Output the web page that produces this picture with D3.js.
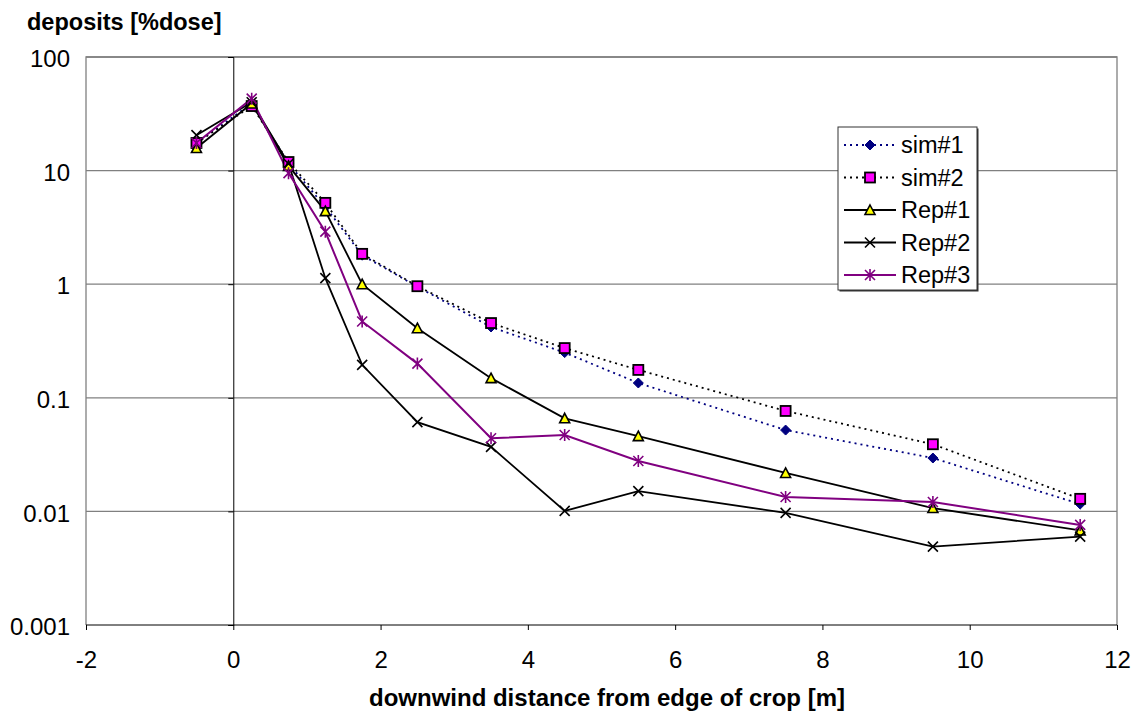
<!DOCTYPE html>
<html>
<head>
<meta charset="utf-8">
<script src="https://cdn.jsdelivr.net/npm/d3@7"></script>
<style>
  body { margin: 0; background: #fff; }
  svg { font-family: "Liberation Sans", Arial, sans-serif; }
</style>
</head>
<body>
<div class="chart"></div>
<script>
// distances [m]
const distance = [-0.5, 0.25, 0.75, 1.25, 1.75, 2.5, 3.5, 4.5, 5.5, 7.5, 9.5, 11.5];

// deposits [%dose]
const sim1 = [17.5, 39, 11.5, 4.8, 1.8, 0.95, 0.42, 0.25, 0.135, 0.052, 0.0295, 0.0116];
const sim2 = [17.5, 37, 11.9, 5.2, 1.85, 0.96, 0.455, 0.274, 0.176, 0.0766, 0.039, 0.0129];
const rep1 = [15.8, 39, 11, 4.4, 1.0, 0.41, 0.149, 0.066, 0.046, 0.0218, 0.0107, 0.0068];
const rep2 = [20.5, 40, 11.5, 1.13, 0.195, 0.061, 0.037, 0.0101, 0.0151, 0.0097, 0.0049, 0.006];
const rep3 = [17.5, 43, 9.5, 2.9, 0.47, 0.2, 0.044, 0.047, 0.0278, 0.0134, 0.0121, 0.0076];

const seriesNames = ["sim#1", "sim#2", "Rep#1", "Rep#2", "Rep#3"];
const xTicks = [-2, 0, 2, 4, 6, 8, 10, 12];
const yTicks = [0.001, 0.01, 0.1, 1, 10, 100];
const yTickLabels = ["0.001", "0.01", "0.1", "1", "10", "100"];

const W = 1145, H = 715;
const plot = {left: 86, right: 1117, top: 57, bottom: 625};

const svg = d3.select(".chart").append("svg")
    .attr("width", W)
    .attr("height", H);

const x = d3.scaleLinear().domain([-2, 12]).range([plot.left, plot.right]);
const y = d3.scaleLog().domain([0.001, 100]).range([plot.bottom, plot.top]);

// gridlines + frame
svg.append("g").selectAll("line")
    .data(yTicks.slice(1))
    .join("line")
    .attr("x1", plot.left).attr("x2", plot.right)
    .attr("y1", d => y(d)).attr("y2", d => y(d))
    .attr("stroke", "#808080").attr("stroke-width", 1.3);

svg.append("path")
    .attr("d", `M${plot.left},${plot.bottom}V${plot.top}H${plot.right}V${plot.bottom}`)
    .attr("fill", "none").attr("stroke", "#808080").attr("stroke-width", 1.3);

// y axis crosses at x = 0
const yAxis = d3.axisLeft(y).tickValues(yTicks).tickSize(5).tickFormat("");
svg.append("g")
    .attr("transform", `translate(${x(0)},0)`)
    .call(yAxis)
    .call(g => g.selectAll("line, path").attr("stroke", "#000"));

// y labels sit on the left edge
svg.append("g").selectAll("text")
    .data(yTicks)
    .join("text")
    .attr("x", 70)
    .attr("y", d => y(d) + 1.5)
    .attr("dy", "0.36em")
    .attr("text-anchor", "end")
    .attr("font-size", 24)
    .text((d, i) => yTickLabels[i]);

// x axis
const xAxis = d3.axisBottom(x).tickValues(xTicks).tickSize(5).tickPadding(21).tickFormat(d => String(d));
svg.append("g")
    .attr("transform", `translate(0,${plot.bottom})`)
    .call(xAxis)
    .call(g => g.selectAll("line, path").attr("stroke", "#000"))
    .call(g => g.select(".domain").attr("d", `M${plot.left},0H${plot.right}`))
    .call(g => g.selectAll("text").attr("font-size", 24).attr("font-family", "Liberation Sans, Arial, sans-serif"));

// titles
svg.append("text")
    .attr("x", 27).attr("y", 30)
    .attr("font-size", 23.5).attr("font-weight", "bold")
    .text("deposits [%dose]");

svg.append("text")
    .attr("x", 607).attr("y", 706)
    .attr("text-anchor", "middle")
    .attr("font-size", 24).attr("font-weight", "bold")
    .text("downwind distance from edge of crop [m]");

// series styling
const styles = {
  "sim#1": {values: sim1, color: "#000080", dash: "2,4", marker: "diamond", fill: "#000080", mstroke: "#000080"},
  "sim#2": {values: sim2, color: "#000000", dash: "2,4", marker: "square", fill: "#ff00ff", mstroke: "#000"},
  "Rep#1": {values: rep1, color: "#000000", dash: null, marker: "triangle", fill: "#ffff00", mstroke: "#000"},
  "Rep#2": {values: rep2, color: "#000000", dash: null, marker: "x", fill: "none", mstroke: "#000"},
  "Rep#3": {values: rep3, color: "#800080", dash: null, marker: "star", fill: "none", mstroke: "#800080"}
};

function drawMarker(g, type, s) {
  if (type === "diamond") {
    g.append("path").attr("d", "M0,-5L5,0L0,5L-5,0Z").attr("fill", s.fill).attr("stroke", s.mstroke);
  } else if (type === "square") {
    g.append("rect").attr("x", -5).attr("y", -5).attr("width", 10).attr("height", 10)
      .attr("fill", s.fill).attr("stroke", s.mstroke).attr("stroke-width", 1.8);
  } else if (type === "triangle") {
    g.append("path").attr("d", "M0,-5L5,4.5L-5,4.5Z").attr("fill", s.fill).attr("stroke", s.mstroke).attr("stroke-width", 1.6);
  } else if (type === "x") {
    g.append("path").attr("d", "M-5,-5L5,5M-5,5L5,-5").attr("stroke", s.mstroke).attr("stroke-width", 1.6);
  } else if (type === "star") {
    g.append("path").attr("d", "M-5,-5L5,5M-5,5L5,-5M0,-6V6").attr("stroke", s.mstroke).attr("stroke-width", 1.6);
  }
}

const line = d3.line().x((d, i) => x(distance[i])).y(d => y(d));

seriesNames.forEach(name => {
  const s = styles[name];
  svg.append("path")
      .datum(s.values)
      .attr("d", line)
      .attr("fill", "none")
      .attr("stroke", s.color)
      .attr("stroke-width", name === "Rep#3" ? 2 : 1.8)
      .attr("stroke-dasharray", s.dash);
});

seriesNames.forEach(name => {
  const s = styles[name];
  svg.append("g").selectAll("g")
      .data(s.values)
      .join("g")
      .attr("transform", (d, i) => `translate(${x(distance[i])},${y(d)})`)
      .each(function() { drawMarker(d3.select(this), s.marker, s); });
});

// legend
const leg = svg.append("g").attr("transform", "translate(838,127)");
leg.append("rect")
    .attr("x", 1.5).attr("y", 1.5).attr("width", 139).attr("height", 163)
    .attr("fill", "#333");
leg.append("rect")
    .attr("width", 139).attr("height", 163)
    .attr("fill", "#fff").attr("stroke", "#333");

seriesNames.forEach((name, i) => {
  const s = styles[name];
  const row = leg.append("g").attr("transform", `translate(0,${18 + i * 32.5})`);
  row.append("line")
      .attr("x1", 6).attr("x2", 58)
      .attr("stroke", s.color).attr("stroke-width", name === "Rep#3" ? 2 : 1.8)
      .attr("stroke-dasharray", s.dash);
  const m = row.append("g").attr("transform", "translate(32,0)");
  drawMarker(m, s.marker, s);
  row.append("text")
      .attr("x", 63).attr("dy", "0.36em")
      .attr("font-size", 23.5)
      .text(name);
});
</script>
</body>
</html>
